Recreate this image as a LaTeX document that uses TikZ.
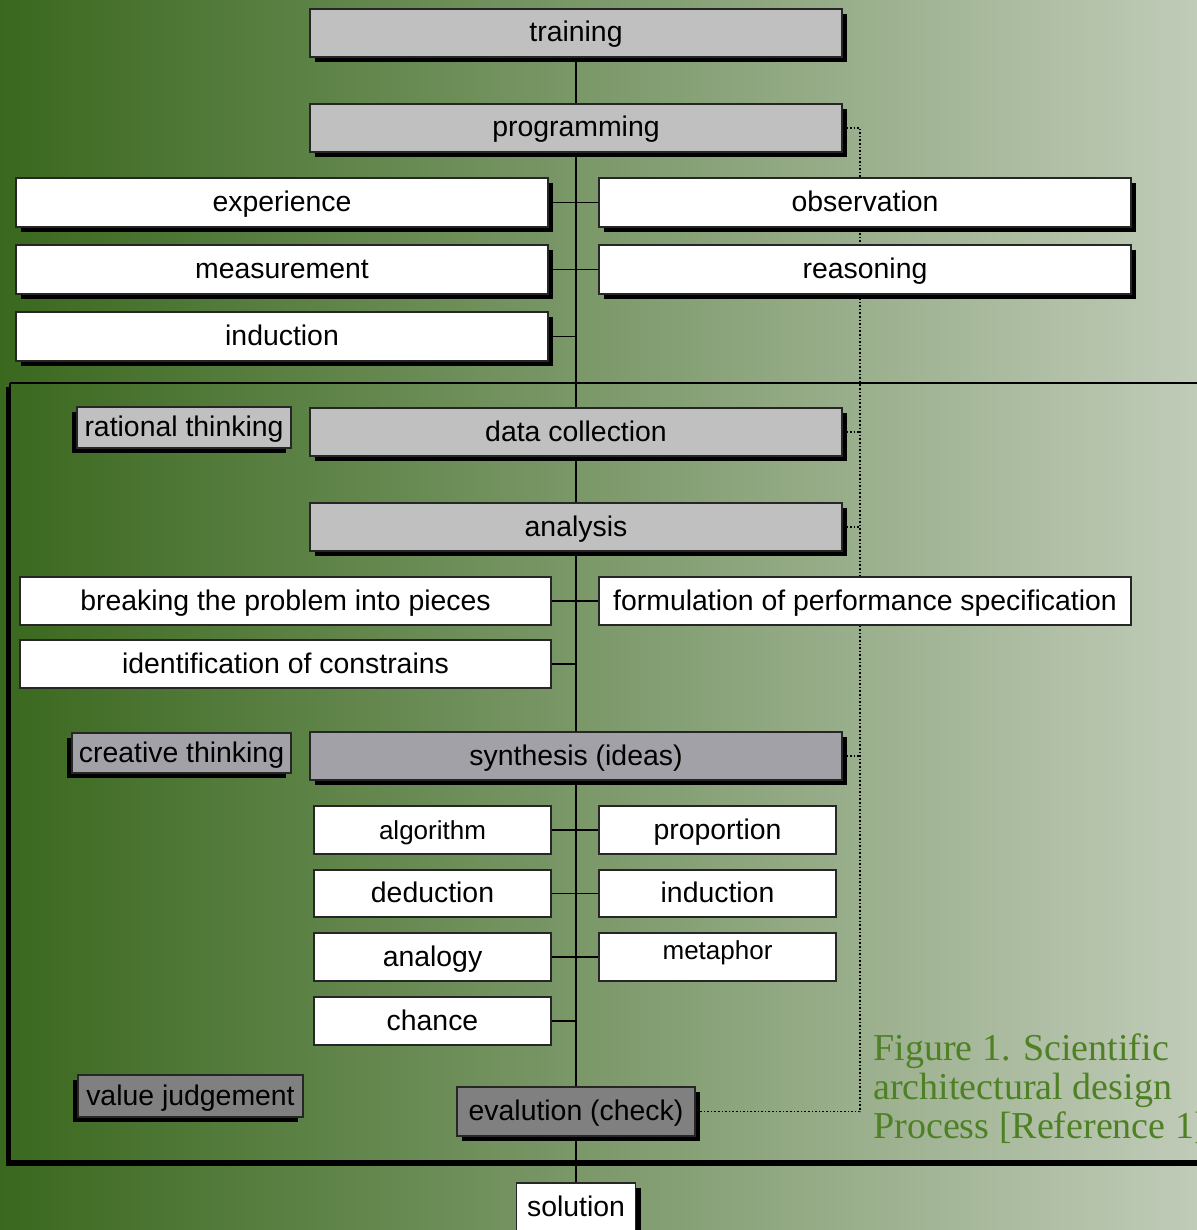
\documentclass[tikz,border=0pt]{standalone}
\usepackage{fontspec}
\setmainfont{Liberation Sans}
\newfontfamily\capfont{Liberation Serif}
\usetikzlibrary{shadows}
\pgfdeclarelayer{back}
\pgfdeclarelayer{conn}
\pgfsetlayers{back,conn,main}
\definecolor{bgL}{RGB}{58,104,30}
\definecolor{bgR}{RGB}{192,203,184}
\definecolor{lgray}{RGB}{192,192,192}
\definecolor{mgray}{RGB}{162,161,167}
\definecolor{dgray}{RGB}{128,128,128}
\definecolor{capgreen}{RGB}{78,128,36}
\tikzset{
  box/.style={draw=black!85, line width=0.7pt, inner sep=0pt, text=black,
    text height=11pt, text depth=2pt,
    font=\fontsize{14.2}{17}\selectfont},
  shR/.style={drop shadow={shadow xshift=2.5pt, shadow yshift=-2.5pt, opacity=1, fill=black}},
  shL/.style={drop shadow={shadow xshift=-2.5pt, shadow yshift=-2.5pt, opacity=1, fill=black}},
  wide/.style={minimum width=266pt, minimum height=24pt},
  half/.style={minimum width=118.5pt, minimum height=24pt},
  link/.style={line width=0.7pt, draw=black},
  dotl/.style={line width=0.8pt, densely dotted, draw=black},
  captxt/.style={anchor=base west, inner sep=0pt, text=capgreen,
    font=\capfont\fontsize{19}{20}\selectfont}
}
\begin{document}
\begin{tikzpicture}[x=0.5pt,y=-0.5pt]
\useasboundingbox (0,0) rectangle (1197,1230);
\clip (0,0) rectangle (1197,1230);
\begin{pgfonlayer}{back}
  \shade[left color=bgL, right color=bgR] (0,0) rectangle (1197,1230);
\end{pgfonlayer}

% upper section
\node[box,wide,fill=lgray,shR] (train) at (576,33) {training};
\node[box,wide,fill=lgray,shR] (prog) at (576,128) {programming};
\node[box,wide,minimum height=24.5pt,fill=white,shR] (exp) at (282,202.5) {experience};
\node[box,wide,minimum height=24.5pt,fill=white,shR] (obs) at (865,202.5) {observation};
\node[box,wide,minimum height=24.5pt,fill=white,shR] (meas) at (282,269.5) {measurement};
\node[box,wide,minimum height=24.5pt,fill=white,shR] (reas) at (865,269.5) {reasoning};
\node[box,wide,minimum height=24.5pt,fill=white,shR] (indL) at (282,336.5) {induction};

% framed section
\node[box,minimum width=107pt,minimum height=20.5pt,fill=lgray,shL,inner sep=2pt] (rat) at (184,427.5) {rational thinking};
\node[box,wide,fill=lgray,shR] (dc) at (576,432) {data collection};
\node[box,wide,fill=lgray,shR] (ana) at (576,527) {analysis};
\node[box,minimum width=265.5pt,minimum height=24pt,fill=white] (brk) at (285.5,601) {breaking the problem into pieces};
\node[box,wide,fill=white] (form) at (865,601) {formulation of performance specification};
\node[box,minimum width=265.5pt,minimum height=24pt,fill=white] (ident) at (285.5,664) {identification of constrains};

\node[box,minimum width=109.5pt,minimum height=20pt,fill=mgray,shL,inner sep=2pt] (cre) at (181.5,753) {creative thinking};
\node[box,wide,fill=mgray,shR] (syn) at (576,756) {synthesis (ideas)};
\node[box,half,fill=white,font=\fontsize{13}{16}\selectfont] (alg) at (432.5,830) {algorithm};
\node[box,half,fill=white] (prop) at (717.5,830) {proportion};
\node[box,half,minimum height=23.5pt,fill=white] (ded) at (432.5,893.5) {deduction};
\node[box,half,minimum height=23.5pt,fill=white] (indR) at (717.5,893.5) {induction};
\node[box,half,fill=white] (anal) at (432.5,957) {analogy};
\node[box,half,fill=white,font=\fontsize{13}{16}\selectfont,text height=8pt,text depth=6pt] (meta) at (717.5,957) {metaphor};
\node[box,half,fill=white] (chance) at (432.5,1021) {chance};

\node[box,minimum width=112.5pt,minimum height=21pt,fill=dgray,shL,inner sep=2pt] (val) at (190.5,1096) {value judgement};
\node[box,minimum width=119pt,minimum height=24.5pt,fill=dgray,shR] (eval) at (576,1111.5) {evalution (check)};

\node[box,minimum width=59.5pt,minimum height=24pt,fill=white,shR] (sol) at (576,1207) {solution};

% caption
\node[captxt] (cap1) at (873,1060) {Figure 1. Scientific};
\node[captxt] (cap2) at (873,1099) {architectural design};
\node[captxt] (cap3) at (873,1138) {Process [Reference 1]};

\begin{pgfonlayer}{conn}
  % frame with shadow
  \fill[black] (6,387) rectangle (11,1166);
  \fill[black] (6,1161) rectangle (1200,1166);
  \draw[line width=0.7pt] (10,383) -- (1200,383);
  \draw[line width=0.7pt] (10,383) -- (10,1161) -- (1200,1161);
  % trunk and branches
  \draw[link] (train.south) -- (sol.north);
  \draw[link] (exp.east) -- (obs.west);
  \draw[link] (meas.east) -- (reas.west);
  \draw[link] (indL.east) -- (indL.east -| train.south);
  \draw[link] (brk.east) -- (form.west);
  \draw[link] (ident.east) -- (ident.east -| train.south);
  \draw[link] (alg.east) -- (prop.west);
  \draw[link] (ded.east) -- (indR.west);
  \draw[link] (anal.east) -- (meta.west);
  \draw[link] (chance.east) -- (chance.east -| train.south);
  % dotted feedback line
  \coordinate (D) at (860,0);
  \draw[dotl] (prog.east) -- (prog.east -| D) -- (eval.east -| D) -- (eval.east);
  \draw[dotl] (dc.east) -- (dc.east -| D);
  \draw[dotl] (ana.east) -- (ana.east -| D);
  \draw[dotl] (syn.east) -- (syn.east -| D);
\end{pgfonlayer}
\end{tikzpicture}
\end{document}
